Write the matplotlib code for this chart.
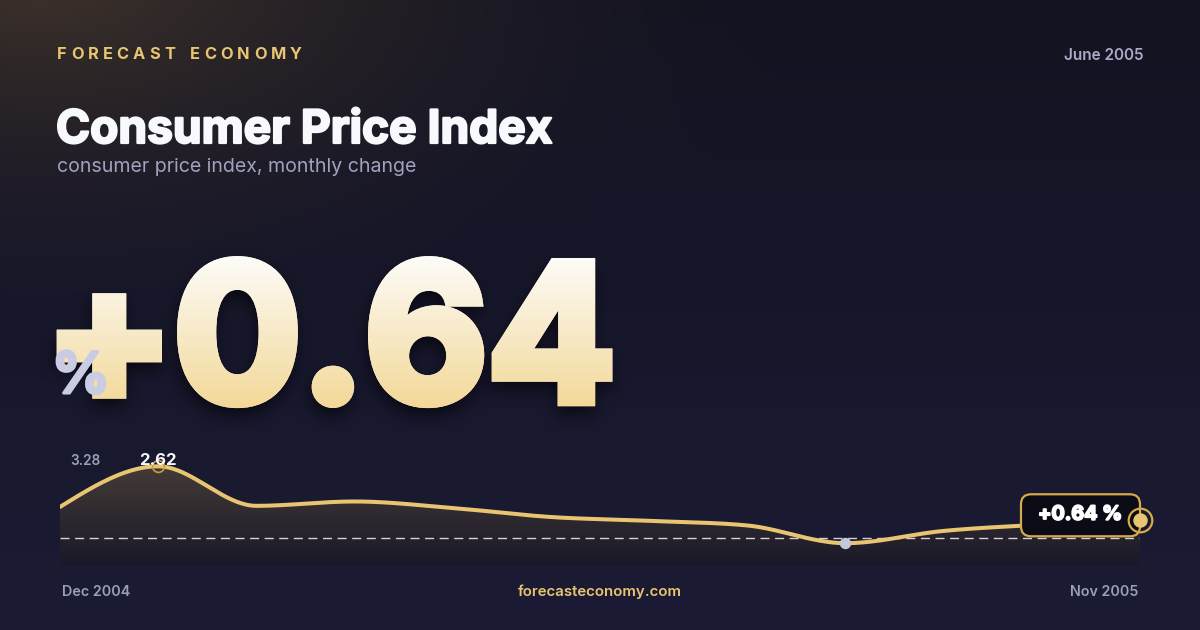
import numpy as np
import matplotlib
matplotlib.use("Agg")
import matplotlib.pyplot as plt
import matplotlib.patheffects as pe
from matplotlib.patches import Polygon, FancyBboxPatch

# ---- data ----
brand = "FORECAST ECONOMY"
title = "Consumer Price Index"
subtitle = "consumer price index, monthly change"
date_label = "June 2005"
site = "forecasteconomy.com"
months = ["Dec 2004", "Jan 2005", "Feb 2005", "Mar 2005", "Apr 2005", "May 2005",
          "Jun 2005", "Jul 2005", "Aug 2005", "Sep 2005", "Oct 2005", "Nov 2005"]
cpi_change = [1.13, 2.62, 1.17, 1.33, 1.09, 0.76, 0.62, 0.45, -0.20, 0.25, 0.48, 0.64]
scale_top = 3.28
scale_bottom = -0.80
headline = cpi_change[-1]

# ---- colours ----
GOLD = "#e9c572"
GOLD_DARK = "#d5aa4e"
MUTED = "#9c9fba"
WHITE = "#f8f9fc"
LAVENDER = "#c9cce3"

plt.rcParams["font.family"] = ["Inter", "DejaVu Sans"]

W, H = 1200, 630
fig = plt.figure(figsize=(12, 6.3), dpi=100)

bg = fig.add_axes([0, 0, 1, 1])
bg.axis("off")


def reset_bg():
    bg.set_xlim(0, W)
    bg.set_ylim(H, 0)


# background: navy with a warm glow in the top-left corner
yy, xx = np.mgrid[0:H, 0:W]
top_c = np.array([0x13, 0x13, 0x21]) / 255
bot_c = np.array([0x1b, 0x1b, 0x35]) / 255
t = (yy / (H - 1))[..., None]
img = top_c * (1 - t) + bot_c * t
glow_c = np.array([0x3e, 0x33, 0x2b]) / 255
r = np.sqrt(((xx - 40) / 780) ** 2 + ((yy + 20) / 380) ** 2)
w = (np.clip(1 - r, 0, 1) ** 1.8)[..., None]
img = img * (1 - w) + glow_c * w
bg.imshow(img, extent=(0, W, H, 0), aspect="auto", zorder=0, interpolation="bilinear")
reset_bg()


def text_mask(s, x, y, size, lw, weight="bold"):
    # render a text offscreen, return its coverage as a 0..1 array
    f2 = plt.figure(figsize=(12, 6.3), dpi=100, facecolor="white")
    a2 = f2.add_axes([0, 0, 1, 1])
    a2.set_xlim(0, W)
    a2.set_ylim(H, 0)
    a2.axis("off")
    a2.text(x, y, s, fontsize=size, fontweight=weight, color="black", va="baseline",
            ha="left", path_effects=[pe.Stroke(linewidth=lw, foreground="black",
                                               joinstyle="miter"), pe.Normal()])
    f2.canvas.draw()
    buf = np.asarray(f2.canvas.buffer_rgba())[..., 0].astype(float) / 255
    plt.close(f2)
    return 1 - buf


def ink_box(m):
    rows = np.where(m.max(axis=1) > 0.5)[0]
    cols = np.where(m.max(axis=0) > 0.5)[0]
    return cols[0], cols[-1], rows[0], rows[-1]


# ---- header ----
renderer = fig.canvas.get_renderer()
widths = []
for ch in brand:
    if ch == " ":
        widths.append(None)
        continue
    tt = bg.text(0, 0, ch, fontsize=11.8, fontweight="bold")
    widths.append(tt.get_window_extent(renderer).width)
    tt.remove()
space_w = 6.0
ink = sum(v if v is not None else space_w for v in widths)
gap = (302 - 57 - ink) / (len(brand) - 1)
xpos = 57
for ch, wd in zip(brand, widths):
    if wd is None:
        xpos += space_w + gap
        continue
    bg.text(xpos, 59, ch, fontsize=11.8, fontweight="bold", color=GOLD, va="baseline", ha="left")
    xpos += wd + gap

bg.text(1143, 60, date_label, fontsize=11, fontweight="semibold", color="#a9acc6",
        ha="right", va="baseline")
bg.text(56, 143, title, fontsize=33.2, fontweight="bold", color=WHITE, va="baseline",
        path_effects=[pe.Stroke(linewidth=1.6, foreground=WHITE), pe.Normal()])
bg.text(57, 172, subtitle, fontsize=14.1, color="#a0a3bf", va="baseline")

# ---- big headline number, heavy weight, vertical gradient ----
big = f"{headline:+.2f}"
big_lw = 7.5
tx, ty, tsize = 57.0, 405.0, 140.0
t_left, t_top, t_base = 57, 256, 407
for _ in range(2):
    m = text_mask(big, tx, ty, tsize, big_lw)
    l, rgt, top, bot = ink_box(m)
    tsize *= (t_base - t_top) / (bot - top)
    m = text_mask(big, tx, ty, tsize, big_lw)
    l, rgt, top, bot = ink_box(m)
    tx += t_left - l
    ty += t_base - bot
mask = text_mask(big, tx, ty, tsize, big_lw)

# soft drop shadow
sh = np.roll(mask, 9, axis=0)
for _ in range(3):
    k = 7
    c = np.cumsum(np.pad(sh, ((k, k), (0, 0)), mode="edge"), axis=0)
    sh = (c[2 * k:] - c[:-2 * k]) / (2 * k)
    c = np.cumsum(np.pad(sh, ((0, 0), (k, k)), mode="edge"), axis=1)
    sh = (c[:, 2 * k:] - c[:, :-2 * k]) / (2 * k)
sh = sh[:H, :W]
shadow = np.zeros((H, W, 4))
shadow[..., :3] = np.array([0x05, 0x05, 0x0c]) / 255
shadow[..., 3] = np.clip(sh * 0.75, 0, 1)
bg.imshow(shadow, extent=(0, W, H, 0), aspect="auto", zorder=2, interpolation="bilinear")

bg.text(tx, ty, big, fontsize=tsize, fontweight="bold", color="#f9ecc8", va="baseline",
        ha="left", zorder=3,
        path_effects=[pe.Stroke(linewidth=big_lw, foreground="#f9ecc8", joinstyle="miter"),
                      pe.Normal()])

c_top = np.array([0xfd, 0xfc, 0xf9]) / 255
c_bot = np.array([0xf3, 0xd8, 0x98]) / 255
g = np.clip((yy - t_top) / (t_base - t_top), 0, 1)[..., None]
over = np.zeros((H, W, 4))
over[..., :3] = c_top * (1 - g) + c_bot * g
over[..., 3] = mask
bg.imshow(over, extent=(0, W, H, 0), aspect="auto", zorder=3.5, interpolation="nearest")
reset_bg()

bg.text(52, 393, "%", fontsize=41, fontweight="bold", color=LAVENDER,
        va="baseline", ha="left", zorder=4,
        path_effects=[pe.Stroke(linewidth=2.2, foreground=LAVENDER), pe.Normal()])


# ---- sparkline ----
def monotone_curve(xs, ys, n=40):
    xs = np.asarray(xs, float)
    ys = np.asarray(ys, float)
    h = np.diff(xs)
    s = np.diff(ys) / h
    m = np.zeros_like(ys)
    for i in range(1, len(ys) - 1):
        p = (s[i - 1] * h[i] + s[i] * h[i - 1]) / (h[i - 1] + h[i])
        m[i] = (np.sign(s[i - 1]) + np.sign(s[i])) * min(abs(s[i - 1]), abs(s[i]), 0.5 * abs(p))
    m[0] = (3 * s[0] - m[1]) / 2
    m[-1] = (3 * s[-1] - m[-2]) / 2
    ox, oy = [], []
    for i in range(len(xs) - 1):
        u = np.linspace(0, 1, n, endpoint=(i == len(xs) - 2))
        h00 = 2 * u**3 - 3 * u**2 + 1
        h10 = u**3 - 2 * u**2 + u
        h01 = -2 * u**3 + 3 * u**2
        h11 = u**3 - u**2
        ox.append(xs[i] + u * h[i])
        oy.append(h00 * ys[i] + h10 * h[i] * m[i] + h01 * ys[i + 1] + h11 * h[i] * m[i + 1])
    return np.concatenate(ox), np.concatenate(oy)


idx = np.arange(len(months))
floor = -1.0
ax = fig.add_axes([60 / W, (H - 565) / H, 1080 / W, 116.7 / H])
ax.set_xlim(idx[0], idx[-1])
ax.set_ylim(floor, scale_top)
ax.axis("off")
ax.patch.set_alpha(0)

cx, cy = monotone_curve(idx, cpi_change)
poly = Polygon(np.column_stack([np.r_[cx, cx[-1], cx[0]], np.r_[cy, floor, floor]]),
               closed=True, facecolor="none", edgecolor="none")
ax.add_patch(poly)
fg = np.linspace(0, 1, 256)[:, None, None]
f_top = np.array([0x4c, 0x41, 0x3a]) / 255
f_bot = np.array([0x1a, 0x19, 0x28]) / 255
fgrad = np.repeat(f_top * (1 - fg) + f_bot * fg, 2, axis=1)
fim = ax.imshow(fgrad, extent=(idx[0], idx[-1], floor, scale_top), aspect="auto",
                zorder=1, interpolation="bilinear")
fim.set_clip_path(poly)
ax.set_xlim(idx[0], idx[-1])
ax.set_ylim(floor, scale_top)

ax.axhline(0, color="white", alpha=0.8, lw=1.0, dashes=(6.5, 4), zorder=2)
ax.plot(cx, cy, color=GOLD, lw=2.9, solid_capstyle="round", zorder=3)

i_max = int(np.argmax(cpi_change))
i_min = int(np.argmin(cpi_change))
ax.plot(idx[i_max], cpi_change[i_max], "o", ms=8.5, mfc="none", mec="#c79d48",
        mew=1.2, zorder=4)
ax.annotate(f"{cpi_change[i_max]:.2f}", (idx[i_max], cpi_change[i_max]),
            xytext=(0, 6), textcoords="offset pixels", ha="center", va="center",
            fontsize=12, fontweight="bold", color=WHITE, zorder=5)
ax.plot(idx[i_min], cpi_change[i_min], "o", ms=7.2, color="#c5c8dd", zorder=4)

# label box for the latest value, placed from the last point's pixel position
fig.canvas.draw()
px, py = ax.transData.transform((idx[-1], headline))
ex, ey = px, H - py
box = FancyBboxPatch((ex - 119, ey - 26), 119, 42,
                     boxstyle="round,pad=0,rounding_size=10", transform=bg.transData,
                     fc="#0b0b16", ec=GOLD_DARK, lw=1.6, zorder=6, clip_on=False)
ax.add_patch(box)
ax.text(ex - 60, ey - 5.5, f"{headline:+.2f} %", fontsize=14.2, fontweight="bold",
        color="white", ha="center", va="center", zorder=6.5, transform=bg.transData,
        path_effects=[pe.Stroke(linewidth=1.3, foreground="white"), pe.Normal()])
ax.plot(idx[-1], headline, "o", ms=17, mfc="none", mec=GOLD_DARK, mew=1.6,
        zorder=7, clip_on=False)
ax.plot(idx[-1], headline, "o", ms=9.4, color=GOLD, zorder=7, clip_on=False)

bg.text(70, 461, f"{scale_top:.2f}", fontsize=9.8, fontweight="semibold", color=MUTED,
        va="center", ha="left", zorder=5)
bg.text(70, 547, f"{scale_bottom:.2f}", fontsize=9.8, fontweight="semibold", color=MUTED,
        va="center", ha="left", zorder=5)

# ---- footer ----
bg.text(62, 592, months[0], fontsize=10.3, fontweight="semibold", color=MUTED,
        va="center", ha="left")
bg.text(600, 592, site, fontsize=10.8, fontweight="semibold", color=GOLD,
        va="center", ha="center")
bg.text(1138, 592, months[-1], fontsize=10.3, fontweight="semibold", color=MUTED,
        va="center", ha="right")
reset_bg()

fig.savefig("out.png", dpi=100)
